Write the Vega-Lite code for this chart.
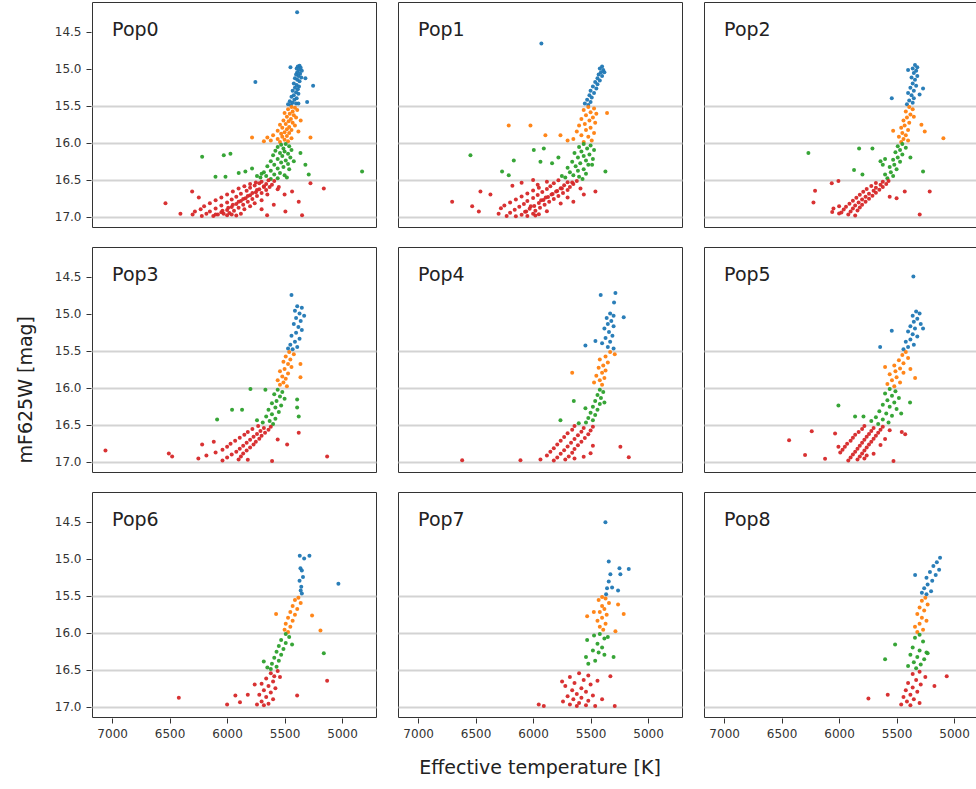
{
"$schema":"https://vega.github.io/schema/vega-lite/v6.json",
"padding":{"left":17,"top":1,"right":0,"bottom":0},
"title":{"text":"mF625W [mag]","orient":"left","anchor":"middle","fontSize":19,"fontWeight":"normal","font":"DejaVu Sans","color":"#222","offset":18},
"data":{"values":[
{"p":"Pop0","t":5370,"m":14.96},{"p":"Pop0","t":5385,"m":14.97},{"p":"Pop0","t":5360,"m":14.99},{"p":"Pop0","t":5395,"m":15.0},{"p":"Pop0","t":5375,"m":15.02},{"p":"Pop0","t":5350,"m":15.03},{"p":"Pop0","t":5390,"m":15.05},{"p":"Pop0","t":5365,"m":15.07},{"p":"Pop0","t":5400,"m":15.08},{"p":"Pop0","t":5380,"m":15.1},{"p":"Pop0","t":5355,"m":15.12},{"p":"Pop0","t":5410,"m":15.13},{"p":"Pop0","t":5390,"m":15.15},{"p":"Pop0","t":5370,"m":15.17},{"p":"Pop0","t":5420,"m":15.2},{"p":"Pop0","t":5395,"m":15.22},{"p":"Pop0","t":5375,"m":15.24},{"p":"Pop0","t":5410,"m":15.26},{"p":"Pop0","t":5385,"m":15.28},{"p":"Pop0","t":5430,"m":15.3},{"p":"Pop0","t":5400,"m":15.32},{"p":"Pop0","t":5380,"m":15.34},{"p":"Pop0","t":5420,"m":15.36},{"p":"Pop0","t":5440,"m":15.38},{"p":"Pop0","t":5395,"m":15.4},{"p":"Pop0","t":5415,"m":15.42},{"p":"Pop0","t":5455,"m":15.44},{"p":"Pop0","t":5430,"m":15.46},{"p":"Pop0","t":5400,"m":15.47},{"p":"Pop0","t":5470,"m":15.48},{"p":"Pop0","t":5445,"m":15.49},{"p":"Pop0","t":5380,"m":15.47},{"p":"Pop0","t":5391,"m":14.24},{"p":"Pop0","t":5754,"m":15.18},{"p":"Pop0","t":5252,"m":15.23},{"p":"Pop0","t":5449,"m":14.98},{"p":"Pop0","t":5319,"m":15.13},{"p":"Pop0","t":5304,"m":15.45},
{"p":"Pop0","t":5440,"m":15.52},{"p":"Pop0","t":5410,"m":15.53},{"p":"Pop0","t":5470,"m":15.55},{"p":"Pop0","t":5390,"m":15.56},{"p":"Pop0","t":5430,"m":15.58},{"p":"Pop0","t":5500,"m":15.6},{"p":"Pop0","t":5455,"m":15.61},{"p":"Pop0","t":5420,"m":15.63},{"p":"Pop0","t":5480,"m":15.65},{"p":"Pop0","t":5400,"m":15.66},{"p":"Pop0","t":5445,"m":15.68},{"p":"Pop0","t":5510,"m":15.7},{"p":"Pop0","t":5465,"m":15.71},{"p":"Pop0","t":5430,"m":15.73},{"p":"Pop0","t":5490,"m":15.75},{"p":"Pop0","t":5540,"m":15.76},{"p":"Pop0","t":5410,"m":15.77},{"p":"Pop0","t":5460,"m":15.79},{"p":"Pop0","t":5520,"m":15.8},{"p":"Pop0","t":5480,"m":15.82},{"p":"Pop0","t":5440,"m":15.83},{"p":"Pop0","t":5560,"m":15.84},{"p":"Pop0","t":5500,"m":15.86},{"p":"Pop0","t":5460,"m":15.87},{"p":"Pop0","t":5530,"m":15.88},{"p":"Pop0","t":5600,"m":15.9},{"p":"Pop0","t":5480,"m":15.91},{"p":"Pop0","t":5520,"m":15.92},{"p":"Pop0","t":5650,"m":15.93},{"p":"Pop0","t":5440,"m":15.94},{"p":"Pop0","t":5560,"m":15.95},{"p":"Pop0","t":5500,"m":15.96},{"p":"Pop0","t":5620,"m":15.97},{"p":"Pop0","t":5470,"m":15.98},{"p":"Pop0","t":5540,"m":15.99},{"p":"Pop0","t":5680,"m":15.98},{"p":"Pop0","t":5783,"m":15.93},{"p":"Pop0","t":5275,"m":15.93},{"p":"Pop0","t":5360,"m":15.7},{"p":"Pop0","t":5380,"m":15.85},
{"p":"Pop0","t":5490,"m":16.02},{"p":"Pop0","t":5530,"m":16.03},{"p":"Pop0","t":5460,"m":16.05},{"p":"Pop0","t":5560,"m":16.06},{"p":"Pop0","t":5510,"m":16.08},{"p":"Pop0","t":5440,"m":16.1},{"p":"Pop0","t":5580,"m":16.11},{"p":"Pop0","t":5500,"m":16.12},{"p":"Pop0","t":5540,"m":16.14},{"p":"Pop0","t":5470,"m":16.15},{"p":"Pop0","t":5600,"m":16.17},{"p":"Pop0","t":5520,"m":16.18},{"p":"Pop0","t":5450,"m":16.2},{"p":"Pop0","t":5560,"m":16.22},{"p":"Pop0","t":5490,"m":16.24},{"p":"Pop0","t":5620,"m":16.25},{"p":"Pop0","t":5530,"m":16.27},{"p":"Pop0","t":5470,"m":16.29},{"p":"Pop0","t":5590,"m":16.3},{"p":"Pop0","t":5650,"m":16.32},{"p":"Pop0","t":5510,"m":16.33},{"p":"Pop0","t":5560,"m":16.35},{"p":"Pop0","t":5460,"m":16.36},{"p":"Pop0","t":5620,"m":16.38},{"p":"Pop0","t":5680,"m":16.4},{"p":"Pop0","t":5540,"m":16.41},{"p":"Pop0","t":5590,"m":16.43},{"p":"Pop0","t":5500,"m":16.44},{"p":"Pop0","t":5660,"m":16.45},{"p":"Pop0","t":5710,"m":16.47},{"p":"Pop0","t":5560,"m":16.48},{"p":"Pop0","t":5620,"m":16.49},{"p":"Pop0","t":5480,"m":16.47},{"p":"Pop0","t":5700,"m":16.42},{"p":"Pop0","t":6217,"m":16.19},{"p":"Pop0","t":6029,"m":16.17},{"p":"Pop0","t":5971,"m":16.15},{"p":"Pop0","t":6101,"m":16.46},{"p":"Pop0","t":6014,"m":16.46},{"p":"Pop0","t":5899,"m":16.41},{"p":"Pop0","t":5841,"m":16.39},{"p":"Pop0","t":5783,"m":16.35},{"p":"Pop0","t":5362,"m":16.14},{"p":"Pop0","t":5290,"m":16.43},{"p":"Pop0","t":5319,"m":16.3},{"p":"Pop0","t":4826,"m":16.39},{"p":"Pop0","t":5420,"m":16.25},{"p":"Pop0","t":5740,"m":16.45},
{"p":"Pop0","t":5640,"m":16.51},{"p":"Pop0","t":5700,"m":16.53},{"p":"Pop0","t":5590,"m":16.52},{"p":"Pop0","t":5750,"m":16.54},{"p":"Pop0","t":5660,"m":16.56},{"p":"Pop0","t":5720,"m":16.55},{"p":"Pop0","t":5610,"m":16.57},{"p":"Pop0","t":5800,"m":16.56},{"p":"Pop0","t":5680,"m":16.59},{"p":"Pop0","t":5760,"m":16.58},{"p":"Pop0","t":5630,"m":16.6},{"p":"Pop0","t":5850,"m":16.59},{"p":"Pop0","t":5720,"m":16.63},{"p":"Pop0","t":5800,"m":16.61},{"p":"Pop0","t":5660,"m":16.64},{"p":"Pop0","t":5900,"m":16.62},{"p":"Pop0","t":5560,"m":16.63},{"p":"Pop0","t":5750,"m":16.67},{"p":"Pop0","t":5830,"m":16.65},{"p":"Pop0","t":5700,"m":16.68},{"p":"Pop0","t":5950,"m":16.66},{"p":"Pop0","t":6304,"m":16.66},{"p":"Pop0","t":5435,"m":16.66},{"p":"Pop0","t":5800,"m":16.71},{"p":"Pop0","t":5880,"m":16.69},{"p":"Pop0","t":5740,"m":16.72},{"p":"Pop0","t":6000,"m":16.7},{"p":"Pop0","t":5650,"m":16.7},{"p":"Pop0","t":5840,"m":16.75},{"p":"Pop0","t":5920,"m":16.73},{"p":"Pop0","t":5780,"m":16.76},{"p":"Pop0","t":6050,"m":16.74},{"p":"Pop0","t":6246,"m":16.74},{"p":"Pop0","t":5880,"m":16.79},{"p":"Pop0","t":5960,"m":16.77},{"p":"Pop0","t":5820,"m":16.8},{"p":"Pop0","t":6100,"m":16.78},{"p":"Pop0","t":5700,"m":16.78},{"p":"Pop0","t":5920,"m":16.83},{"p":"Pop0","t":6000,"m":16.81},{"p":"Pop0","t":5860,"m":16.84},{"p":"Pop0","t":6150,"m":16.82},{"p":"Pop0","t":5760,"m":16.82},{"p":"Pop0","t":6536,"m":16.82},{"p":"Pop0","t":5960,"m":16.87},{"p":"Pop0","t":6050,"m":16.85},{"p":"Pop0","t":5900,"m":16.88},{"p":"Pop0","t":6200,"m":16.86},{"p":"Pop0","t":5800,"m":16.86},{"p":"Pop0","t":6000,"m":16.91},{"p":"Pop0","t":6100,"m":16.89},{"p":"Pop0","t":5940,"m":16.92},{"p":"Pop0","t":6230,"m":16.9},{"p":"Pop0","t":5850,"m":16.9},{"p":"Pop0","t":5700,"m":16.9},{"p":"Pop0","t":6050,"m":16.94},{"p":"Pop0","t":5980,"m":16.95},{"p":"Pop0","t":6150,"m":16.93},{"p":"Pop0","t":5880,"m":16.96},{"p":"Pop0","t":6280,"m":16.93},{"p":"Pop0","t":5493,"m":16.93},{"p":"Pop0","t":6080,"m":16.97},{"p":"Pop0","t":6000,"m":16.98},{"p":"Pop0","t":6180,"m":16.96},{"p":"Pop0","t":5920,"m":16.985},{"p":"Pop0","t":6300,"m":16.97},{"p":"Pop0","t":6406,"m":16.96},{"p":"Pop0","t":6120,"m":16.99},{"p":"Pop0","t":6030,"m":16.96},{"p":"Pop0","t":5960,"m":16.97},{"p":"Pop0","t":6220,"m":16.99},{"p":"Pop0","t":5348,"m":16.98},{"p":"Pop0","t":5652,"m":16.98},{"p":"Pop0","t":5377,"m":16.8},{"p":"Pop0","t":5275,"m":16.55},{"p":"Pop0","t":5159,"m":16.62},{"p":"Pop0","t":5594,"m":16.84},{"p":"Pop0","t":5500,"m":16.7},{"p":"Pop0","t":5550,"m":16.6},{"p":"Pop0","t":5680,"m":16.6},{"p":"Pop0","t":5780,"m":16.68},{"p":"Pop0","t":5860,"m":16.76},{"p":"Pop0","t":5950,"m":16.84},{"p":"Pop0","t":6040,"m":16.92},{"p":"Pop0","t":6100,"m":16.97},{"p":"Pop0","t":5900,"m":16.8},{"p":"Pop0","t":5990,"m":16.88},{"p":"Pop0","t":5740,"m":16.64},{"p":"Pop0","t":5820,"m":16.72},
{"p":"Pop1","t":5400,"m":14.97},{"p":"Pop1","t":5420,"m":15.0},{"p":"Pop1","t":5390,"m":15.02},{"p":"Pop1","t":5410,"m":15.05},{"p":"Pop1","t":5430,"m":15.08},{"p":"Pop1","t":5400,"m":15.1},{"p":"Pop1","t":5440,"m":15.13},{"p":"Pop1","t":5420,"m":15.16},{"p":"Pop1","t":5460,"m":15.18},{"p":"Pop1","t":5440,"m":15.21},{"p":"Pop1","t":5480,"m":15.24},{"p":"Pop1","t":5450,"m":15.27},{"p":"Pop1","t":5500,"m":15.3},{"p":"Pop1","t":5470,"m":15.33},{"p":"Pop1","t":5510,"m":15.36},{"p":"Pop1","t":5490,"m":15.39},{"p":"Pop1","t":5530,"m":15.42},{"p":"Pop1","t":5500,"m":15.45},{"p":"Pop1","t":5550,"m":15.47},{"p":"Pop1","t":5520,"m":15.49},{"p":"Pop1","t":5928,"m":14.66},{"p":"Pop1","t":5380,"m":15.05},
{"p":"Pop1","t":5520,"m":15.52},{"p":"Pop1","t":5470,"m":15.54},{"p":"Pop1","t":5560,"m":15.56},{"p":"Pop1","t":5500,"m":15.59},{"p":"Pop1","t":5450,"m":15.61},{"p":"Pop1","t":5540,"m":15.63},{"p":"Pop1","t":5480,"m":15.66},{"p":"Pop1","t":5580,"m":15.68},{"p":"Pop1","t":5510,"m":15.7},{"p":"Pop1","t":5460,"m":15.73},{"p":"Pop1","t":5550,"m":15.75},{"p":"Pop1","t":5600,"m":15.77},{"p":"Pop1","t":5500,"m":15.8},{"p":"Pop1","t":5540,"m":15.83},{"p":"Pop1","t":5620,"m":15.85},{"p":"Pop1","t":5470,"m":15.87},{"p":"Pop1","t":5580,"m":15.9},{"p":"Pop1","t":5520,"m":15.92},{"p":"Pop1","t":5650,"m":15.95},{"p":"Pop1","t":5490,"m":15.97},{"p":"Pop1","t":5560,"m":15.99},{"p":"Pop1","t":6212,"m":15.77},{"p":"Pop1","t":6023,"m":15.77},{"p":"Pop1","t":5893,"m":15.9},{"p":"Pop1","t":5762,"m":15.9},{"p":"Pop1","t":5357,"m":15.6},{"p":"Pop1","t":5700,"m":15.97},
{"p":"Pop1","t":5560,"m":16.02},{"p":"Pop1","t":5500,"m":16.04},{"p":"Pop1","t":5600,"m":16.06},{"p":"Pop1","t":5530,"m":16.08},{"p":"Pop1","t":5470,"m":16.1},{"p":"Pop1","t":5580,"m":16.12},{"p":"Pop1","t":5640,"m":16.14},{"p":"Pop1","t":5510,"m":16.16},{"p":"Pop1","t":5560,"m":16.18},{"p":"Pop1","t":5610,"m":16.2},{"p":"Pop1","t":5480,"m":16.22},{"p":"Pop1","t":5540,"m":16.24},{"p":"Pop1","t":5660,"m":16.26},{"p":"Pop1","t":5590,"m":16.28},{"p":"Pop1","t":5520,"m":16.3},{"p":"Pop1","t":5630,"m":16.32},{"p":"Pop1","t":5700,"m":16.34},{"p":"Pop1","t":5560,"m":16.36},{"p":"Pop1","t":5610,"m":16.38},{"p":"Pop1","t":5680,"m":16.4},{"p":"Pop1","t":5540,"m":16.42},{"p":"Pop1","t":5650,"m":16.44},{"p":"Pop1","t":5600,"m":16.46},{"p":"Pop1","t":5720,"m":16.47},{"p":"Pop1","t":5570,"m":16.49},{"p":"Pop1","t":6545,"m":16.17},{"p":"Pop1","t":6168,"m":16.24},{"p":"Pop1","t":5994,"m":16.1},{"p":"Pop1","t":5907,"m":16.08},{"p":"Pop1","t":6270,"m":16.39},{"p":"Pop1","t":6212,"m":16.44},{"p":"Pop1","t":5835,"m":16.28},{"p":"Pop1","t":5936,"m":16.26},{"p":"Pop1","t":5371,"m":16.39},{"p":"Pop1","t":5487,"m":16.3},{"p":"Pop1","t":5780,"m":16.2},{"p":"Pop1","t":5750,"m":16.45},
{"p":"Pop1","t":5620,"m":16.52},{"p":"Pop1","t":5700,"m":16.535},{"p":"Pop1","t":5780,"m":16.51},{"p":"Pop1","t":5880,"m":16.53},{"p":"Pop1","t":6000,"m":16.505},{"p":"Pop1","t":5650,"m":16.56},{"p":"Pop1","t":5730,"m":16.575},{"p":"Pop1","t":5820,"m":16.548},{"p":"Pop1","t":5960,"m":16.568},{"p":"Pop1","t":6100,"m":16.542},{"p":"Pop1","t":5680,"m":16.6},{"p":"Pop1","t":5760,"m":16.615},{"p":"Pop1","t":5850,"m":16.588},{"p":"Pop1","t":5950,"m":16.608},{"p":"Pop1","t":6180,"m":16.582},{"p":"Pop1","t":5700,"m":16.64},{"p":"Pop1","t":5790,"m":16.655},{"p":"Pop1","t":5880,"m":16.628},{"p":"Pop1","t":6000,"m":16.648},{"p":"Pop1","t":5740,"m":16.68},{"p":"Pop1","t":5830,"m":16.695},{"p":"Pop1","t":5920,"m":16.668},{"p":"Pop1","t":6050,"m":16.688},{"p":"Pop1","t":6458,"m":16.662},{"p":"Pop1","t":5559,"m":16.7},{"p":"Pop1","t":5780,"m":16.72},{"p":"Pop1","t":5870,"m":16.735},{"p":"Pop1","t":5960,"m":16.708},{"p":"Pop1","t":6100,"m":16.728},{"p":"Pop1","t":6371,"m":16.702},{"p":"Pop1","t":5820,"m":16.76},{"p":"Pop1","t":5910,"m":16.775},{"p":"Pop1","t":6000,"m":16.748},{"p":"Pop1","t":6150,"m":16.768},{"p":"Pop1","t":5700,"m":16.742},{"p":"Pop1","t":5860,"m":16.8},{"p":"Pop1","t":5950,"m":16.815},{"p":"Pop1","t":6050,"m":16.788},{"p":"Pop1","t":6200,"m":16.808},{"p":"Pop1","t":6704,"m":16.8},{"p":"Pop1","t":5900,"m":16.84},{"p":"Pop1","t":5990,"m":16.855},{"p":"Pop1","t":6080,"m":16.828},{"p":"Pop1","t":6250,"m":16.848},{"p":"Pop1","t":5760,"m":16.822},{"p":"Pop1","t":5940,"m":16.88},{"p":"Pop1","t":6030,"m":16.895},{"p":"Pop1","t":6120,"m":16.868},{"p":"Pop1","t":6280,"m":16.888},{"p":"Pop1","t":6530,"m":16.86},{"p":"Pop1","t":5980,"m":16.92},{"p":"Pop1","t":6070,"m":16.935},{"p":"Pop1","t":6160,"m":16.908},{"p":"Pop1","t":5880,"m":16.928},{"p":"Pop1","t":6472,"m":16.93},{"p":"Pop1","t":6000,"m":16.96},{"p":"Pop1","t":6100,"m":16.975},{"p":"Pop1","t":6200,"m":16.948},{"p":"Pop1","t":5950,"m":16.968},{"p":"Pop1","t":6300,"m":16.96},{"p":"Pop1","t":6050,"m":16.99},{"p":"Pop1","t":6150,"m":16.995},{"p":"Pop1","t":5980,"m":16.985},{"p":"Pop1","t":6230,"m":16.99},{"p":"Pop1","t":5588,"m":16.62},{"p":"Pop1","t":5458,"m":16.66},{"p":"Pop1","t":5650,"m":16.8},{"p":"Pop1","t":5660,"m":16.54},{"p":"Pop1","t":5750,"m":16.62},{"p":"Pop1","t":5840,"m":16.7},{"p":"Pop1","t":5930,"m":16.78},{"p":"Pop1","t":6020,"m":16.86},{"p":"Pop1","t":6060,"m":16.93},{"p":"Pop1","t":5800,"m":16.66},{"p":"Pop1","t":5890,"m":16.74},
{"p":"Pop2","t":5340,"m":14.95},{"p":"Pop2","t":5320,"m":14.98},{"p":"Pop2","t":5360,"m":15.0},{"p":"Pop2","t":5330,"m":15.03},{"p":"Pop2","t":5400,"m":15.02},{"p":"Pop2","t":5350,"m":15.06},{"p":"Pop2","t":5320,"m":15.1},{"p":"Pop2","t":5370,"m":15.12},{"p":"Pop2","t":5340,"m":15.15},{"p":"Pop2","t":5360,"m":15.2},{"p":"Pop2","t":5330,"m":15.23},{"p":"Pop2","t":5380,"m":15.26},{"p":"Pop2","t":5350,"m":15.3},{"p":"Pop2","t":5400,"m":15.33},{"p":"Pop2","t":5370,"m":15.36},{"p":"Pop2","t":5350,"m":15.4},{"p":"Pop2","t":5390,"m":15.43},{"p":"Pop2","t":5360,"m":15.46},{"p":"Pop2","t":5410,"m":15.48},{"p":"Pop2","t":5542,"m":15.4},{"p":"Pop2","t":5270,"m":15.27},{"p":"Pop2","t":5300,"m":15.35},
{"p":"Pop2","t":5390,"m":15.52},{"p":"Pop2","t":5360,"m":15.55},{"p":"Pop2","t":5420,"m":15.58},{"p":"Pop2","t":5380,"m":15.62},{"p":"Pop2","t":5410,"m":15.66},{"p":"Pop2","t":5440,"m":15.7},{"p":"Pop2","t":5390,"m":15.73},{"p":"Pop2","t":5430,"m":15.77},{"p":"Pop2","t":5460,"m":15.8},{"p":"Pop2","t":5400,"m":15.83},{"p":"Pop2","t":5450,"m":15.87},{"p":"Pop2","t":5420,"m":15.9},{"p":"Pop2","t":5480,"m":15.92},{"p":"Pop2","t":5440,"m":15.95},{"p":"Pop2","t":5400,"m":15.97},{"p":"Pop2","t":5460,"m":15.99},{"p":"Pop2","t":5093,"m":15.94},{"p":"Pop2","t":5284,"m":15.76},{"p":"Pop2","t":5255,"m":15.85},{"p":"Pop2","t":5530,"m":15.84},{"p":"Pop2","t":5350,"m":15.65},
{"p":"Pop2","t":5450,"m":16.02},{"p":"Pop2","t":5490,"m":16.05},{"p":"Pop2","t":5420,"m":16.07},{"p":"Pop2","t":5470,"m":16.1},{"p":"Pop2","t":5510,"m":16.13},{"p":"Pop2","t":5450,"m":16.16},{"p":"Pop2","t":5490,"m":16.2},{"p":"Pop2","t":5530,"m":16.23},{"p":"Pop2","t":5470,"m":16.26},{"p":"Pop2","t":5520,"m":16.3},{"p":"Pop2","t":5560,"m":16.33},{"p":"Pop2","t":5500,"m":16.36},{"p":"Pop2","t":5550,"m":16.4},{"p":"Pop2","t":5600,"m":16.43},{"p":"Pop2","t":5530,"m":16.45},{"p":"Pop2","t":5580,"m":16.48},{"p":"Pop2","t":5640,"m":16.25},{"p":"Pop2","t":5600,"m":16.22},{"p":"Pop2","t":5620,"m":16.3},{"p":"Pop2","t":5826,"m":16.08},{"p":"Pop2","t":5710,"m":16.08},{"p":"Pop2","t":6267,"m":16.14},{"p":"Pop2","t":5870,"m":16.37},{"p":"Pop2","t":5797,"m":16.43},{"p":"Pop2","t":5270,"m":16.39},{"p":"Pop2","t":5380,"m":16.2},
{"p":"Pop2","t":5620,"m":16.53},{"p":"Pop2","t":5680,"m":16.545},{"p":"Pop2","t":5570,"m":16.518},{"p":"Pop2","t":5640,"m":16.57},{"p":"Pop2","t":5720,"m":16.585},{"p":"Pop2","t":5590,"m":16.558},{"p":"Pop2","t":5680,"m":16.61},{"p":"Pop2","t":5760,"m":16.625},{"p":"Pop2","t":5620,"m":16.598},{"p":"Pop2","t":5700,"m":16.65},{"p":"Pop2","t":5790,"m":16.665},{"p":"Pop2","t":5650,"m":16.638},{"p":"Pop2","t":6209,"m":16.65},{"p":"Pop2","t":5740,"m":16.69},{"p":"Pop2","t":5820,"m":16.705},{"p":"Pop2","t":5680,"m":16.678},{"p":"Pop2","t":5770,"m":16.73},{"p":"Pop2","t":5850,"m":16.745},{"p":"Pop2","t":5710,"m":16.718},{"p":"Pop2","t":5560,"m":16.73},{"p":"Pop2","t":5800,"m":16.77},{"p":"Pop2","t":5880,"m":16.785},{"p":"Pop2","t":5740,"m":16.758},{"p":"Pop2","t":5830,"m":16.81},{"p":"Pop2","t":5910,"m":16.825},{"p":"Pop2","t":5770,"m":16.798},{"p":"Pop2","t":6223,"m":16.81},{"p":"Pop2","t":5860,"m":16.85},{"p":"Pop2","t":5940,"m":16.865},{"p":"Pop2","t":5800,"m":16.838},{"p":"Pop2","t":6000,"m":16.858},{"p":"Pop2","t":5880,"m":16.89},{"p":"Pop2","t":5960,"m":16.905},{"p":"Pop2","t":5820,"m":16.878},{"p":"Pop2","t":6049,"m":16.89},{"p":"Pop2","t":5900,"m":16.93},{"p":"Pop2","t":5980,"m":16.945},{"p":"Pop2","t":5840,"m":16.918},{"p":"Pop2","t":6060,"m":16.938},{"p":"Pop2","t":5920,"m":16.97},{"p":"Pop2","t":5860,"m":16.985},{"p":"Pop2","t":6000,"m":16.958},{"p":"Pop2","t":5299,"m":16.97},{"p":"Pop2","t":6064,"m":16.55},{"p":"Pop2","t":6006,"m":16.52},{"p":"Pop2","t":5429,"m":16.66},{"p":"Pop2","t":5212,"m":16.66},{"p":"Pop2","t":5500,"m":16.75},
{"p":"Pop3","t":5440,"m":14.75},{"p":"Pop3","t":5390,"m":14.9},{"p":"Pop3","t":5350,"m":14.92},{"p":"Pop3","t":5410,"m":14.96},{"p":"Pop3","t":5370,"m":15.0},{"p":"Pop3","t":5330,"m":15.03},{"p":"Pop3","t":5400,"m":15.06},{"p":"Pop3","t":5360,"m":15.1},{"p":"Pop3","t":5420,"m":15.14},{"p":"Pop3","t":5380,"m":15.18},{"p":"Pop3","t":5350,"m":15.22},{"p":"Pop3","t":5400,"m":15.26},{"p":"Pop3","t":5440,"m":15.3},{"p":"Pop3","t":5370,"m":15.34},{"p":"Pop3","t":5410,"m":15.38},{"p":"Pop3","t":5450,"m":15.42},{"p":"Pop3","t":5390,"m":15.45},{"p":"Pop3","t":5430,"m":15.48},{"p":"Pop3","t":5470,"m":15.47},
{"p":"Pop3","t":5460,"m":15.52},{"p":"Pop3","t":5420,"m":15.55},{"p":"Pop3","t":5490,"m":15.58},{"p":"Pop3","t":5450,"m":15.62},{"p":"Pop3","t":5510,"m":15.65},{"p":"Pop3","t":5470,"m":15.68},{"p":"Pop3","t":5440,"m":15.72},{"p":"Pop3","t":5500,"m":15.75},{"p":"Pop3","t":5540,"m":15.78},{"p":"Pop3","t":5470,"m":15.81},{"p":"Pop3","t":5520,"m":15.85},{"p":"Pop3","t":5490,"m":15.88},{"p":"Pop3","t":5560,"m":15.9},{"p":"Pop3","t":5510,"m":15.93},{"p":"Pop3","t":5540,"m":15.96},{"p":"Pop3","t":5480,"m":15.98},{"p":"Pop3","t":5362,"m":15.68},{"p":"Pop3","t":5362,"m":15.86},
{"p":"Pop3","t":5560,"m":16.03},{"p":"Pop3","t":5520,"m":16.06},{"p":"Pop3","t":5590,"m":16.09},{"p":"Pop3","t":5540,"m":16.12},{"p":"Pop3","t":5500,"m":16.15},{"p":"Pop3","t":5570,"m":16.18},{"p":"Pop3","t":5610,"m":16.21},{"p":"Pop3","t":5530,"m":16.24},{"p":"Pop3","t":5580,"m":16.27},{"p":"Pop3","t":5640,"m":16.3},{"p":"Pop3","t":5550,"m":16.33},{"p":"Pop3","t":5610,"m":16.36},{"p":"Pop3","t":5660,"m":16.39},{"p":"Pop3","t":5580,"m":16.42},{"p":"Pop3","t":5630,"m":16.45},{"p":"Pop3","t":5690,"m":16.47},{"p":"Pop3","t":5600,"m":16.49},{"p":"Pop3","t":5797,"m":16.02},{"p":"Pop3","t":5667,"m":16.03},{"p":"Pop3","t":5957,"m":16.3},{"p":"Pop3","t":5870,"m":16.3},{"p":"Pop3","t":6087,"m":16.43},{"p":"Pop3","t":5391,"m":16.16},{"p":"Pop3","t":5391,"m":16.27},{"p":"Pop3","t":5377,"m":16.39},{"p":"Pop3","t":5740,"m":16.44},
{"p":"Pop3","t":5620,"m":16.53},{"p":"Pop3","t":5680,"m":16.545},{"p":"Pop3","t":5730,"m":16.518},{"p":"Pop3","t":5640,"m":16.57},{"p":"Pop3","t":5710,"m":16.585},{"p":"Pop3","t":5780,"m":16.558},{"p":"Pop3","t":5670,"m":16.61},{"p":"Pop3","t":5740,"m":16.625},{"p":"Pop3","t":5820,"m":16.598},{"p":"Pop3","t":5377,"m":16.61},{"p":"Pop3","t":5700,"m":16.65},{"p":"Pop3","t":5770,"m":16.665},{"p":"Pop3","t":5850,"m":16.638},{"p":"Pop3","t":5720,"m":16.69},{"p":"Pop3","t":5800,"m":16.705},{"p":"Pop3","t":5890,"m":16.678},{"p":"Pop3","t":5750,"m":16.73},{"p":"Pop3","t":5830,"m":16.745},{"p":"Pop3","t":5930,"m":16.718},{"p":"Pop3","t":6116,"m":16.73},{"p":"Pop3","t":5770,"m":16.77},{"p":"Pop3","t":5860,"m":16.785},{"p":"Pop3","t":5970,"m":16.758},{"p":"Pop3","t":6217,"m":16.77},{"p":"Pop3","t":5478,"m":16.77},{"p":"Pop3","t":5800,"m":16.81},{"p":"Pop3","t":5890,"m":16.825},{"p":"Pop3","t":6000,"m":16.798},{"p":"Pop3","t":5830,"m":16.85},{"p":"Pop3","t":5920,"m":16.865},{"p":"Pop3","t":6040,"m":16.838},{"p":"Pop3","t":7058,"m":16.85},{"p":"Pop3","t":5860,"m":16.89},{"p":"Pop3","t":5960,"m":16.905},{"p":"Pop3","t":6100,"m":16.878},{"p":"Pop3","t":6507,"m":16.89},{"p":"Pop3","t":5880,"m":16.93},{"p":"Pop3","t":6000,"m":16.945},{"p":"Pop3","t":6180,"m":16.918},{"p":"Pop3","t":6478,"m":16.93},{"p":"Pop3","t":5130,"m":16.93},{"p":"Pop3","t":5900,"m":16.97},{"p":"Pop3","t":6040,"m":16.985},{"p":"Pop3","t":6250,"m":16.958},{"p":"Pop3","t":5820,"m":16.975},{"p":"Pop3","t":5609,"m":16.99},{"p":"Pop3","t":5560,"m":16.7},
{"p":"Pop4","t":5412,"m":14.75},{"p":"Pop4","t":5284,"m":14.72},{"p":"Pop4","t":5296,"m":14.85},{"p":"Pop4","t":5330,"m":15.0},{"p":"Pop4","t":5300,"m":15.03},{"p":"Pop4","t":5360,"m":15.06},{"p":"Pop4","t":5320,"m":15.1},{"p":"Pop4","t":5212,"m":15.05},{"p":"Pop4","t":5350,"m":15.14},{"p":"Pop4","t":5300,"m":15.17},{"p":"Pop4","t":5380,"m":15.2},{"p":"Pop4","t":5340,"m":15.25},{"p":"Pop4","t":5310,"m":15.3},{"p":"Pop4","t":5370,"m":15.33},{"p":"Pop4","t":5330,"m":15.38},{"p":"Pop4","t":5400,"m":15.4},{"p":"Pop4","t":5350,"m":15.45},{"p":"Pop4","t":5300,"m":15.47},{"p":"Pop4","t":5545,"m":15.43},{"p":"Pop4","t":5458,"m":15.37},
{"p":"Pop4","t":5330,"m":15.52},{"p":"Pop4","t":5290,"m":15.55},{"p":"Pop4","t":5370,"m":15.58},{"p":"Pop4","t":5420,"m":15.62},{"p":"Pop4","t":5350,"m":15.66},{"p":"Pop4","t":5390,"m":15.7},{"p":"Pop4","t":5430,"m":15.73},{"p":"Pop4","t":5370,"m":15.77},{"p":"Pop4","t":5400,"m":15.8},{"p":"Pop4","t":5450,"m":15.84},{"p":"Pop4","t":5380,"m":15.87},{"p":"Pop4","t":5420,"m":15.9},{"p":"Pop4","t":5470,"m":15.93},{"p":"Pop4","t":5400,"m":15.96},{"p":"Pop4","t":5660,"m":15.8},
{"p":"Pop4","t":5420,"m":16.03},{"p":"Pop4","t":5390,"m":16.06},{"p":"Pop4","t":5440,"m":16.1},{"p":"Pop4","t":5410,"m":16.14},{"p":"Pop4","t":5460,"m":16.18},{"p":"Pop4","t":5420,"m":16.22},{"p":"Pop4","t":5480,"m":16.26},{"p":"Pop4","t":5440,"m":16.3},{"p":"Pop4","t":5500,"m":16.34},{"p":"Pop4","t":5460,"m":16.37},{"p":"Pop4","t":5520,"m":16.41},{"p":"Pop4","t":5480,"m":16.44},{"p":"Pop4","t":5540,"m":16.47},{"p":"Pop4","t":5762,"m":16.44},{"p":"Pop4","t":5603,"m":16.48},{"p":"Pop4","t":5646,"m":16.18},{"p":"Pop4","t":5545,"m":16.28},{"p":"Pop4","t":5380,"m":16.2},
{"p":"Pop4","t":5480,"m":16.53},{"p":"Pop4","t":5560,"m":16.545},{"p":"Pop4","t":5640,"m":16.518},{"p":"Pop4","t":5500,"m":16.58},{"p":"Pop4","t":5580,"m":16.595},{"p":"Pop4","t":5660,"m":16.568},{"p":"Pop4","t":5520,"m":16.63},{"p":"Pop4","t":5610,"m":16.645},{"p":"Pop4","t":5700,"m":16.618},{"p":"Pop4","t":5550,"m":16.68},{"p":"Pop4","t":5640,"m":16.695},{"p":"Pop4","t":5730,"m":16.668},{"p":"Pop4","t":5580,"m":16.73},{"p":"Pop4","t":5670,"m":16.745},{"p":"Pop4","t":5760,"m":16.718},{"p":"Pop4","t":5610,"m":16.78},{"p":"Pop4","t":5700,"m":16.795},{"p":"Pop4","t":5790,"m":16.768},{"p":"Pop4","t":5480,"m":16.785},{"p":"Pop4","t":5640,"m":16.83},{"p":"Pop4","t":5730,"m":16.845},{"p":"Pop4","t":5820,"m":16.818},{"p":"Pop4","t":5660,"m":16.88},{"p":"Pop4","t":5760,"m":16.895},{"p":"Pop4","t":5850,"m":16.868},{"p":"Pop4","t":5500,"m":16.885},{"p":"Pop4","t":5690,"m":16.93},{"p":"Pop4","t":5790,"m":16.945},{"p":"Pop4","t":5880,"m":16.918},{"p":"Pop4","t":5560,"m":16.935},{"p":"Pop4","t":5720,"m":16.97},{"p":"Pop4","t":5820,"m":16.985},{"p":"Pop4","t":5640,"m":16.958},{"p":"Pop4","t":6617,"m":16.98},{"p":"Pop4","t":6110,"m":16.98},{"p":"Pop4","t":5936,"m":16.97},{"p":"Pop4","t":5241,"m":16.8},{"p":"Pop4","t":5168,"m":16.94},
{"p":"Pop5","t":5354,"m":14.5},{"p":"Pop5","t":5330,"m":14.97},{"p":"Pop5","t":5300,"m":15.0},{"p":"Pop5","t":5360,"m":15.03},{"p":"Pop5","t":5320,"m":15.07},{"p":"Pop5","t":5350,"m":15.11},{"p":"Pop5","t":5290,"m":15.14},{"p":"Pop5","t":5380,"m":15.17},{"p":"Pop5","t":5340,"m":15.2},{"p":"Pop5","t":5400,"m":15.24},{"p":"Pop5","t":5360,"m":15.28},{"p":"Pop5","t":5320,"m":15.31},{"p":"Pop5","t":5380,"m":15.35},{"p":"Pop5","t":5420,"m":15.38},{"p":"Pop5","t":5350,"m":15.42},{"p":"Pop5","t":5400,"m":15.45},{"p":"Pop5","t":5440,"m":15.48},{"p":"Pop5","t":5542,"m":15.23},{"p":"Pop5","t":5643,"m":15.45},{"p":"Pop5","t":5270,"m":15.2},
{"p":"Pop5","t":5420,"m":15.52},{"p":"Pop5","t":5450,"m":15.56},{"p":"Pop5","t":5400,"m":15.6},{"p":"Pop5","t":5480,"m":15.63},{"p":"Pop5","t":5440,"m":15.67},{"p":"Pop5","t":5520,"m":15.7},{"p":"Pop5","t":5600,"m":15.72},{"p":"Pop5","t":5470,"m":15.74},{"p":"Pop5","t":5510,"m":15.78},{"p":"Pop5","t":5440,"m":15.8},{"p":"Pop5","t":5560,"m":15.82},{"p":"Pop5","t":5500,"m":15.86},{"p":"Pop5","t":5540,"m":15.9},{"p":"Pop5","t":5470,"m":15.93},{"p":"Pop5","t":5580,"m":15.95},{"p":"Pop5","t":5520,"m":15.98},{"p":"Pop5","t":5339,"m":15.87},{"p":"Pop5","t":5380,"m":15.75},
{"p":"Pop5","t":5560,"m":16.02},{"p":"Pop5","t":5510,"m":16.05},{"p":"Pop5","t":5600,"m":16.08},{"p":"Pop5","t":5540,"m":16.11},{"p":"Pop5","t":5480,"m":16.14},{"p":"Pop5","t":5580,"m":16.17},{"p":"Pop5","t":5520,"m":16.2},{"p":"Pop5","t":5620,"m":16.23},{"p":"Pop5","t":5560,"m":16.26},{"p":"Pop5","t":5500,"m":16.29},{"p":"Pop5","t":5650,"m":16.32},{"p":"Pop5","t":5590,"m":16.35},{"p":"Pop5","t":5540,"m":16.38},{"p":"Pop5","t":5680,"m":16.4},{"p":"Pop5","t":5620,"m":16.43},{"p":"Pop5","t":5720,"m":16.45},{"p":"Pop5","t":5570,"m":16.47},{"p":"Pop5","t":5660,"m":16.49},{"p":"Pop5","t":6006,"m":16.24},{"p":"Pop5","t":5861,"m":16.39},{"p":"Pop5","t":5788,"m":16.39},{"p":"Pop5","t":5383,"m":16.2},{"p":"Pop5","t":5460,"m":16.35},
{"p":"Pop5","t":5620,"m":16.53},{"p":"Pop5","t":5700,"m":16.545},{"p":"Pop5","t":5780,"m":16.518},{"p":"Pop5","t":5640,"m":16.57},{"p":"Pop5","t":5720,"m":16.585},{"p":"Pop5","t":5800,"m":16.558},{"p":"Pop5","t":5560,"m":16.575},{"p":"Pop5","t":5660,"m":16.61},{"p":"Pop5","t":5740,"m":16.625},{"p":"Pop5","t":5830,"m":16.598},{"p":"Pop5","t":5680,"m":16.65},{"p":"Pop5","t":5760,"m":16.665},{"p":"Pop5","t":5860,"m":16.638},{"p":"Pop5","t":5700,"m":16.69},{"p":"Pop5","t":5780,"m":16.705},{"p":"Pop5","t":5880,"m":16.678},{"p":"Pop5","t":5600,"m":16.695},{"p":"Pop5","t":5720,"m":16.73},{"p":"Pop5","t":5800,"m":16.745},{"p":"Pop5","t":5900,"m":16.718},{"p":"Pop5","t":5740,"m":16.77},{"p":"Pop5","t":5820,"m":16.785},{"p":"Pop5","t":5930,"m":16.758},{"p":"Pop5","t":5640,"m":16.775},{"p":"Pop5","t":5760,"m":16.81},{"p":"Pop5","t":5840,"m":16.825},{"p":"Pop5","t":5950,"m":16.798},{"p":"Pop5","t":5780,"m":16.85},{"p":"Pop5","t":5860,"m":16.865},{"p":"Pop5","t":5970,"m":16.838},{"p":"Pop5","t":5800,"m":16.89},{"p":"Pop5","t":5880,"m":16.905},{"p":"Pop5","t":5990,"m":16.878},{"p":"Pop5","t":5700,"m":16.895},{"p":"Pop5","t":5820,"m":16.93},{"p":"Pop5","t":5900,"m":16.945},{"p":"Pop5","t":5760,"m":16.918},{"p":"Pop5","t":5840,"m":16.97},{"p":"Pop5","t":5920,"m":16.985},{"p":"Pop5","t":5780,"m":16.958},{"p":"Pop5","t":6435,"m":16.71},{"p":"Pop5","t":6296,"m":16.91},{"p":"Pop5","t":6238,"m":16.59},{"p":"Pop5","t":6035,"m":16.62},{"p":"Pop5","t":6006,"m":16.8},{"p":"Pop5","t":6122,"m":16.96},{"p":"Pop5","t":5455,"m":16.6},{"p":"Pop5","t":5425,"m":16.63},{"p":"Pop5","t":5527,"m":16.99},
{"p":"Pop6","t":5368,"m":14.96},{"p":"Pop6","t":5330,"m":15.0},{"p":"Pop6","t":5284,"m":14.96},{"p":"Pop6","t":5362,"m":15.13},{"p":"Pop6","t":5350,"m":15.16},{"p":"Pop6","t":5340,"m":15.25},{"p":"Pop6","t":5370,"m":15.3},{"p":"Pop6","t":5355,"m":15.38},{"p":"Pop6","t":5360,"m":15.43},{"p":"Pop6","t":5350,"m":15.47},{"p":"Pop6","t":5032,"m":15.34},
{"p":"Pop6","t":5380,"m":15.53},{"p":"Pop6","t":5410,"m":15.56},{"p":"Pop6","t":5360,"m":15.6},{"p":"Pop6","t":5430,"m":15.64},{"p":"Pop6","t":5390,"m":15.68},{"p":"Pop6","t":5450,"m":15.72},{"p":"Pop6","t":5410,"m":15.76},{"p":"Pop6","t":5470,"m":15.8},{"p":"Pop6","t":5430,"m":15.84},{"p":"Pop6","t":5490,"m":15.88},{"p":"Pop6","t":5450,"m":15.92},{"p":"Pop6","t":5500,"m":15.96},{"p":"Pop6","t":5470,"m":15.99},{"p":"Pop6","t":5261,"m":15.77},{"p":"Pop6","t":5188,"m":15.97},{"p":"Pop6","t":5574,"m":15.75},
{"p":"Pop6","t":5490,"m":16.02},{"p":"Pop6","t":5460,"m":16.06},{"p":"Pop6","t":5530,"m":16.1},{"p":"Pop6","t":5490,"m":16.14},{"p":"Pop6","t":5550,"m":16.18},{"p":"Pop6","t":5510,"m":16.22},{"p":"Pop6","t":5570,"m":16.26},{"p":"Pop6","t":5530,"m":16.3},{"p":"Pop6","t":5590,"m":16.34},{"p":"Pop6","t":5550,"m":16.38},{"p":"Pop6","t":5610,"m":16.42},{"p":"Pop6","t":5570,"m":16.46},{"p":"Pop6","t":5620,"m":16.49},{"p":"Pop6","t":5159,"m":16.28},{"p":"Pop6","t":5435,"m":16.16},{"p":"Pop6","t":5681,"m":16.39},{"p":"Pop6","t":5650,"m":16.47},
{"p":"Pop6","t":5560,"m":16.52},{"p":"Pop6","t":5620,"m":16.55},{"p":"Pop6","t":5590,"m":16.59},{"p":"Pop6","t":5660,"m":16.62},{"p":"Pop6","t":5600,"m":16.66},{"p":"Pop6","t":5700,"m":16.69},{"p":"Pop6","t":5640,"m":16.72},{"p":"Pop6","t":5580,"m":16.75},{"p":"Pop6","t":5680,"m":16.78},{"p":"Pop6","t":5620,"m":16.81},{"p":"Pop6","t":5720,"m":16.84},{"p":"Pop6","t":5660,"m":16.87},{"p":"Pop6","t":5600,"m":16.9},{"p":"Pop6","t":5700,"m":16.93},{"p":"Pop6","t":5640,"m":16.96},{"p":"Pop6","t":5680,"m":16.98},{"p":"Pop6","t":5740,"m":16.97},{"p":"Pop6","t":6420,"m":16.88},{"p":"Pop6","t":6000,"m":16.97},{"p":"Pop6","t":5928,"m":16.85},{"p":"Pop6","t":5888,"m":16.94},{"p":"Pop6","t":5820,"m":16.84},{"p":"Pop6","t":5391,"m":16.85},{"p":"Pop6","t":5130,"m":16.65},{"p":"Pop6","t":5760,"m":16.7},{"p":"Pop6","t":5540,"m":16.6},
{"p":"Pop7","t":5371,"m":14.51},{"p":"Pop7","t":5342,"m":15.04},{"p":"Pop7","t":5249,"m":15.13},{"p":"Pop7","t":5168,"m":15.14},{"p":"Pop7","t":5241,"m":15.21},{"p":"Pop7","t":5328,"m":15.21},{"p":"Pop7","t":5342,"m":15.31},{"p":"Pop7","t":5313,"m":15.39},{"p":"Pop7","t":5261,"m":15.43},{"p":"Pop7","t":5365,"m":15.48},{"p":"Pop7","t":5357,"m":15.4},
{"p":"Pop7","t":5400,"m":15.52},{"p":"Pop7","t":5370,"m":15.54},{"p":"Pop7","t":5430,"m":15.56},{"p":"Pop7","t":5340,"m":15.6},{"p":"Pop7","t":5400,"m":15.64},{"p":"Pop7","t":5380,"m":15.68},{"p":"Pop7","t":5420,"m":15.72},{"p":"Pop7","t":5360,"m":15.76},{"p":"Pop7","t":5400,"m":15.8},{"p":"Pop7","t":5440,"m":15.84},{"p":"Pop7","t":5370,"m":15.88},{"p":"Pop7","t":5420,"m":15.92},{"p":"Pop7","t":5390,"m":15.96},{"p":"Pop7","t":5530,"m":15.78},{"p":"Pop7","t":5472,"m":15.72},{"p":"Pop7","t":5212,"m":15.75},{"p":"Pop7","t":5261,"m":15.62},{"p":"Pop7","t":5284,"m":15.98},
{"p":"Pop7","t":5420,"m":16.02},{"p":"Pop7","t":5470,"m":16.04},{"p":"Pop7","t":5380,"m":16.08},{"p":"Pop7","t":5530,"m":16.1},{"p":"Pop7","t":5440,"m":16.15},{"p":"Pop7","t":5400,"m":16.2},{"p":"Pop7","t":5480,"m":16.24},{"p":"Pop7","t":5430,"m":16.27},{"p":"Pop7","t":5380,"m":16.3},{"p":"Pop7","t":5540,"m":16.33},{"p":"Pop7","t":5460,"m":16.38},{"p":"Pop7","t":5520,"m":16.42},{"p":"Pop7","t":5300,"m":16.33},{"p":"Pop7","t":5350,"m":16.06},
{"p":"Pop7","t":5600,"m":16.55},{"p":"Pop7","t":5520,"m":16.58},{"p":"Pop7","t":5680,"m":16.6},{"p":"Pop7","t":5560,"m":16.64},{"p":"Pop7","t":5640,"m":16.68},{"p":"Pop7","t":5500,"m":16.7},{"p":"Pop7","t":5720,"m":16.72},{"p":"Pop7","t":5580,"m":16.75},{"p":"Pop7","t":5660,"m":16.78},{"p":"Pop7","t":5540,"m":16.8},{"p":"Pop7","t":5620,"m":16.83},{"p":"Pop7","t":5700,"m":16.86},{"p":"Pop7","t":5480,"m":16.85},{"p":"Pop7","t":5580,"m":16.88},{"p":"Pop7","t":5650,"m":16.9},{"p":"Pop7","t":5520,"m":16.92},{"p":"Pop7","t":5740,"m":16.93},{"p":"Pop7","t":5600,"m":16.95},{"p":"Pop7","t":5680,"m":16.97},{"p":"Pop7","t":5540,"m":16.98},{"p":"Pop7","t":5460,"m":16.99},{"p":"Pop7","t":5620,"m":16.99},{"p":"Pop7","t":5951,"m":16.97},{"p":"Pop7","t":5907,"m":16.99},{"p":"Pop7","t":5748,"m":16.66},{"p":"Pop7","t":5328,"m":16.59},{"p":"Pop7","t":5290,"m":16.99},{"p":"Pop7","t":5400,"m":16.9},{"p":"Pop7","t":5440,"m":16.65},
{"p":"Pop8","t":5122,"m":14.99},{"p":"Pop8","t":5150,"m":15.05},{"p":"Pop8","t":5180,"m":15.1},{"p":"Pop8","t":5130,"m":15.15},{"p":"Pop8","t":5210,"m":15.18},{"p":"Pop8","t":5160,"m":15.22},{"p":"Pop8","t":5240,"m":15.26},{"p":"Pop8","t":5190,"m":15.3},{"p":"Pop8","t":5339,"m":15.22},{"p":"Pop8","t":5230,"m":15.35},{"p":"Pop8","t":5260,"m":15.4},{"p":"Pop8","t":5200,"m":15.44},{"p":"Pop8","t":5280,"m":15.46},{"p":"Pop8","t":5240,"m":15.48},
{"p":"Pop8","t":5250,"m":15.53},{"p":"Pop8","t":5280,"m":15.57},{"p":"Pop8","t":5230,"m":15.62},{"p":"Pop8","t":5300,"m":15.66},{"p":"Pop8","t":5260,"m":15.7},{"p":"Pop8","t":5320,"m":15.75},{"p":"Pop8","t":5280,"m":15.8},{"p":"Pop8","t":5240,"m":15.84},{"p":"Pop8","t":5300,"m":15.88},{"p":"Pop8","t":5340,"m":15.92},{"p":"Pop8","t":5270,"m":15.96},{"p":"Pop8","t":5320,"m":15.99},
{"p":"Pop8","t":5300,"m":16.03},{"p":"Pop8","t":5340,"m":16.07},{"p":"Pop8","t":5270,"m":16.12},{"p":"Pop8","t":5360,"m":16.2},{"p":"Pop8","t":5300,"m":16.24},{"p":"Pop8","t":5240,"m":16.27},{"p":"Pop8","t":5380,"m":16.3},{"p":"Pop8","t":5320,"m":16.33},{"p":"Pop8","t":5260,"m":16.36},{"p":"Pop8","t":5350,"m":16.4},{"p":"Pop8","t":5290,"m":16.43},{"p":"Pop8","t":5400,"m":16.45},{"p":"Pop8","t":5230,"m":16.28},{"p":"Pop8","t":5513,"m":16.16},{"p":"Pop8","t":5600,"m":16.36},{"p":"Pop8","t":5330,"m":16.48},
{"p":"Pop8","t":5300,"m":16.53},{"p":"Pop8","t":5360,"m":16.56},{"p":"Pop8","t":5250,"m":16.6},{"p":"Pop8","t":5330,"m":16.64},{"p":"Pop8","t":5400,"m":16.68},{"p":"Pop8","t":5290,"m":16.7},{"p":"Pop8","t":5360,"m":16.74},{"p":"Pop8","t":5420,"m":16.78},{"p":"Pop8","t":5320,"m":16.8},{"p":"Pop8","t":5380,"m":16.84},{"p":"Pop8","t":5440,"m":16.87},{"p":"Pop8","t":5350,"m":16.9},{"p":"Pop8","t":5410,"m":16.93},{"p":"Pop8","t":5300,"m":16.95},{"p":"Pop8","t":5380,"m":16.98},{"p":"Pop8","t":5460,"m":16.97},{"p":"Pop8","t":5745,"m":16.89},{"p":"Pop8","t":5577,"m":16.84},{"p":"Pop8","t":5064,"m":16.59},{"p":"Pop8","t":5171,"m":16.72}
]},
"facet":{"field":"p","type":"nominal","title":"Effective temperature [K]","header":{"labels":false,"labelExpr":"''","labelFontSize":0,"labelPadding":0,"titleOrient":"bottom","titleFontSize":19,"titleFontWeight":"normal","titleColor":"#222","titlePadding":20}},
"columns":3,
"spacing":{"row":18,"column":20},
"spec":{
"width":284,"height":225,
"layer":[
{"mark":{"type":"circle","size":16,"opacity":0.95},
"encoding":{
"x":{"field":"t","type":"quantitative","scale":{"domain":[4705,7175],"reverse":true,"nice":false,"zero":false},"axis":{"title":null,"values":[7000,6500,6000,5500,5000],"format":"d","grid":false}},
"y":{"field":"m","type":"quantitative","scale":{"domain":[14.1,17.14],"reverse":true,"nice":false,"zero":false},"axis":{"title":null,"values":[14.5,15,15.5,16,16.5,17],"format":".1f","grid":true,"gridColor":"#d3d3d3","gridWidth":2,"gridOpacity":{"condition":{"test":"datum.value >= 15.5","value":1},"value":0}}},
"color":{"field":"m","type":"quantitative","scale":{"type":"threshold","domain":[15.5,16,16.5],"range":["#1f77b4","#ff7f0e","#2ca02c","#d62728"]},"legend":null}
}},
{"transform":[{"aggregate":[{"op":"count","as":"n"}],"groupby":["p"]}],
"mark":{"type":"text","align":"left","baseline":"middle","fontSize":19,"font":"DejaVu Sans","color":"#222"},
"encoding":{"x":{"datum":7000,"type":"quantitative"},"y":{"datum":14.48,"type":"quantitative"},"text":{"field":"p"}}}
]},
"config":{"font":"DejaVu Sans","view":{"stroke":"#333","strokeWidth":1},"axis":{"labelFontSize":12,"labelColor":"#333","tickColor":"#333","domain":false,"tickSize":5,"labelPadding":5}}
}
